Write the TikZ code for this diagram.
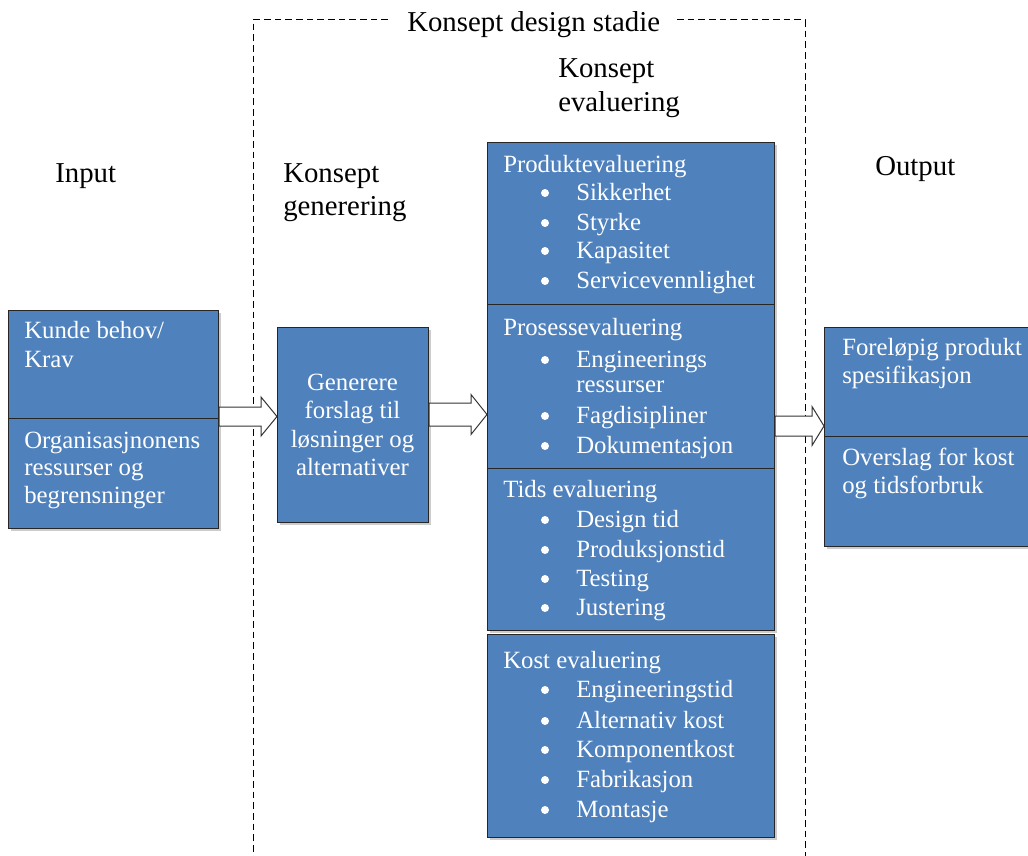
\documentclass[tikz,border=0pt]{standalone}
\usepackage{fontspec}
\setmainfont{Liberation Serif}
\usetikzlibrary{calc,shadows}
\definecolor{boxblue}{HTML}{4F81BD}

% hollow block arrow from the east side of #1 to the west side of #2
% #3 = centre line, #4 = half shaft width, #5 = half head width, #6 = head length
\newcommand\hollowarrow[6]{%
  \draw[arrowbody] let \p1=(#1.east), \p2=(#2.west), \p3=(0,#3), \p4=(#6,#4), \p5=(0,#5) in
    (\x1,\y3-\y4) -- (\x2-\x4,\y3-\y4) -- (\x2-\x4,\y3-\y5) -- (\x2,\y3)
    -- (\x2-\x4,\y3+\y5) -- (\x2-\x4,\y3+\y4) -- (\x1,\y3+\y4) -- cycle;}

% bulleted line inside an evaluation box
\newcommand\listitem[3]{%
  \node[dot] (#1-dot) at (545,#2-7) {};
  \node[body] (#1) at (576,#2) {#3};}

\begin{document}
\begin{tikzpicture}[x=0.75pt,y=-0.75pt,
  box/.style={draw=black!85, line width=0.8pt, fill=boxblue, inner sep=0pt,
    anchor=north west,
    drop shadow={shadow xshift=1.5pt, shadow yshift=-1.5pt, opacity=0.4}},
  size/.style 2 args={minimum width=#1*0.75pt, minimum height=#2*0.75pt},
  body/.style={text=white, font=\fontsize{18.6}{22}\selectfont, inner sep=0pt, anchor=base west},
  head/.style={text=black, font=\fontsize{21.6}{25}\selectfont, inner sep=0pt, anchor=base west},
  dot/.style={circle, fill=white, inner sep=0pt, minimum size=6pt},
  frame/.style={dash pattern=on 5pt off 3pt, line width=0.75pt},
  arrowbody/.style={draw=black!80, fill=white, line width=0.75pt}]

\clip (0,0) rectangle (1028,856);
\fill[white] (0,0) rectangle (1028,856);

% dashed stage frame with its title
\node[head] (title) at (407,32) {Konsept design stadie};
\draw[frame] (388,20) -- (253,20) -- (253,862);
\draw[frame] (677,20) -- (805,20) -- (805,862);

% column headings
\node[head] (hin) at (55,182) {Input};
\node[head] (hgen1) at (283,182) {Konsept};
\node[head] (hgen2) at (283,215) {generering};
\node[head] (hev1) at (558,78) {Konsept};
\node[head] (hev2) at (558,112) {evaluering};
\node[head] (hout) at (875,175) {Output};

% boxes
\node[box, size={210}{108}] (inA) at (8,310) {};
\node[box, size={210}{110}] (inB) at (8,418) {};
\node[box, size={151}{195}] (gen) at (277,327) {};
\node[box, size={287}{162}] (prod) at (487,142) {};
\node[box, size={287}{164}] (pros) at (487,304) {};
\node[box, size={287}{162}] (tids) at (487,468) {};
\node[box, size={287}{203}] (kost) at (487,634) {};
\node[box, size={215}{109}] (outA) at (824,327) {};
\node[box, size={215}{110}] (outB) at (824,436) {};

% input texts
\node[body] (k1) at (24,338) {Kunde behov/};
\node[body] (k2) at (24,367) {Krav};
\node[body] (o1) at (24,448) {Organisasjnonens};
\node[body] (o2) at (24,475) {ressurser og};
\node[body] (o3) at (24,503) {begrensninger};

% generation texts
\node[body, anchor=base] (g1) at (352.5,390) {Generere};
\node[body, anchor=base] (g2) at (352.5,418) {forslag til};
\node[body, anchor=base] (g3) at (352.5,447) {løsninger og};
\node[body, anchor=base] (g4) at (352.5,475) {alternativer};

% evaluation texts
\node[body] (pe) at (503,172) {Produktevaluering};
\listitem{pe1}{200}{Sikkerhet}
\listitem{pe2}{230}{Styrke}
\listitem{pe3}{258}{Kapasitet}
\listitem{pe4}{288}{Servicevennlighet}

\node[body] (se) at (503,335) {Prosessevaluering};
\listitem{se1}{367}{Engineerings}
\node[body] (se1b) at (576,392) {ressurser};
\listitem{se2}{423}{Fagdisipliner}
\listitem{se3}{453}{Dokumentasjon}

\node[body] (te) at (503,497) {Tids evaluering};
\listitem{te1}{527}{Design tid}
\listitem{te2}{557}{Produksjonstid}
\listitem{te3}{586}{Testing}
\listitem{te4}{615}{Justering}

\node[body] (ke) at (503,668) {Kost evaluering};
\listitem{ke1}{697}{Engineeringstid}
\listitem{ke2}{728}{Alternativ kost}
\listitem{ke3}{757}{Komponentkost}
\listitem{ke4}{787}{Fabrikasjon}
\listitem{ke5}{817}{Montasje}

% output texts
\node[body] (f1) at (842,355) {Foreløpig produkt};
\node[body] (f2) at (842,383) {spesifikasjon};
\node[body] (v1) at (842,465) {Overslag for kost};
\node[body] (v2) at (842,493) {og tidsforbruk};

% flow arrows
\hollowarrow{inA}{gen}{416.5}{9.5}{19.5}{16}
\hollowarrow{gen}{pros}{414.5}{11.5}{20}{16}
\hollowarrow{pros}{outA}{426}{10}{19.5}{12}
\end{tikzpicture}
\end{document}
